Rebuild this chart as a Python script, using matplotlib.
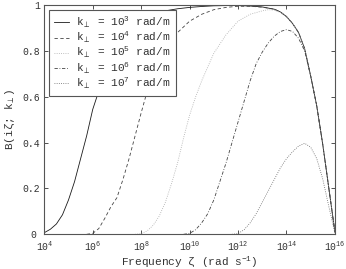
import numpy as np
import matplotlib
matplotlib.use("Agg")
import matplotlib.pyplot as plt
from matplotlib.transforms import ScaledTranslation

plt.rcParams['font.family'] = ['Liberation Mono', 'DejaVu Sans']
plt.rcParams['mathtext.fontset'] = 'custom'
plt.rcParams['mathtext.rm'] = 'Liberation Mono'
plt.rcParams['mathtext.it'] = 'Liberation Mono'
plt.rcParams['mathtext.fallback'] = 'cm'

# log10 of frequency (rad/s) and B values
dec_k3 = [4.0, 4.25, 4.5, 4.75, 5.0, 5.25, 5.5, 5.75, 6.0, 6.25, 6.5, 7.0, 7.5, 8.0,
          8.5, 9.0, 9.5, 10.0, 10.5, 11.0, 11.5, 12.0, 12.5, 13.0, 13.5, 13.75,
          14.0, 14.25, 14.5, 14.75, 15.0, 15.25, 15.5, 15.75, 16.0]
b_k3 = [0.007, 0.022, 0.045, 0.085, 0.15, 0.23, 0.33, 0.43, 0.545, 0.625, 0.70, 0.80,
        0.88, 0.93, 0.96, 0.975, 0.984, 0.99, 0.994, 0.997, 0.998, 0.998, 0.996,
        0.992, 0.982, 0.97, 0.95, 0.92, 0.88, 0.81, 0.69, 0.56, 0.39, 0.20, 0.01]

dec_k4 = [5.75, 6.0, 6.25, 6.5, 6.75, 7.0, 7.25, 7.5, 7.75, 8.0, 8.25, 8.5, 9.0, 9.5,
          10.0, 10.5, 11.0, 11.5, 12.0, 12.5, 13.0, 13.5, 13.75, 14.0, 14.25, 14.5,
          14.75, 15.0, 15.25, 15.5, 15.75, 16.0]
b_k4 = [0.0, 0.004, 0.025, 0.07, 0.12, 0.16, 0.24, 0.33, 0.43, 0.53, 0.625, 0.70,
        0.80, 0.88, 0.93, 0.96, 0.98, 0.99, 0.995, 0.995, 0.991, 0.982, 0.97, 0.95,
        0.92, 0.88, 0.81, 0.69, 0.56, 0.39, 0.20, 0.01]

dec_k5 = [7.75, 8.0, 8.25, 8.5, 8.75, 9.0, 9.25, 9.5, 9.75, 10.0, 10.25, 10.5, 11.0,
          11.5, 12.0, 12.5, 13.0, 13.25, 13.5, 13.75, 14.0, 14.25, 14.5, 14.75,
          15.0, 15.25, 15.5, 15.75, 16.0]
b_k5 = [0.0, 0.003, 0.015, 0.04, 0.08, 0.14, 0.22, 0.31, 0.42, 0.52, 0.60, 0.67,
        0.79, 0.87, 0.93, 0.96, 0.975, 0.98, 0.978, 0.968, 0.95, 0.92, 0.88, 0.81,
        0.69, 0.56, 0.39, 0.20, 0.01]

dec_k6 = [9.75, 10.0, 10.25, 10.5, 10.75, 11.0, 11.25, 11.5, 11.75, 12.0, 12.25,
          12.5, 12.75, 13.0, 13.25, 13.5, 13.75, 14.0, 14.25, 14.5, 14.75, 15.0,
          15.25, 15.5, 15.75, 16.0]
b_k6 = [0.0, 0.004, 0.02, 0.05, 0.09, 0.15, 0.23, 0.31, 0.40, 0.49, 0.58, 0.67,
        0.745, 0.795, 0.835, 0.865, 0.885, 0.893, 0.885, 0.855, 0.80, 0.69, 0.56,
        0.39, 0.20, 0.01]

dec_k7 = [11.75, 12.0, 12.25, 12.5, 12.75, 13.0, 13.25, 13.5, 13.75, 14.0, 14.25,
          14.5, 14.75, 15.0, 15.25, 15.5, 15.75, 16.0]
b_k7 = [0.0, 0.003, 0.02, 0.05, 0.09, 0.14, 0.19, 0.24, 0.29, 0.33, 0.36, 0.385,
        0.397, 0.38, 0.33, 0.24, 0.12, 0.005]

labels = [r'k$_\perp$ = 10$^3$ rad/m', r'k$_\perp$ = 10$^4$ rad/m',
          r'k$_\perp$ = 10$^5$ rad/m', r'k$_\perp$ = 10$^6$ rad/m',
          r'k$_\perp$ = 10$^7$ rad/m']

fig = plt.figure(figsize=(3.46, 2.69), dpi=100)
ax = fig.add_axes([0.128, 0.129, 0.84, 0.852])

lw = 0.6
ax.plot(10 ** np.array(dec_k3), b_k3, '-', color='#1a1a1a', lw=lw, label=labels[0])
ax.plot(10 ** np.array(dec_k4), b_k4, '--', color='#444444', lw=lw, dashes=(4, 3), label=labels[1])
ax.plot(10 ** np.array(dec_k5), b_k5, ':', color='#aaaaaa', lw=lw, label=labels[2])
ax.plot(10 ** np.array(dec_k6), b_k6, '-.', color='#444444', lw=lw, dashes=(4, 2, 1, 2), label=labels[3])
ax.plot(10 ** np.array(dec_k7), b_k7, ':', color='#666666', lw=lw, label=labels[4])

ax.set_xscale('log')
ax.set_xlim(1e4, 1e16)
ax.set_ylim(0, 1)
ax.set_xticks([1e4, 1e6, 1e8, 1e10, 1e12, 1e14, 1e16])
ax.xaxis.set_minor_locator(matplotlib.ticker.NullLocator())
ax.set_yticks([0, 0.2, 0.4, 0.6, 0.8, 1])
ax.set_yticklabels(['0', '0.2', '0.4', '0.6', '0.8', '1'])
ax.tick_params(direction='in', top=True, right=True, length=3, width=0.6,
               labelsize=7, colors='#333333', pad=3)
ax.tick_params(axis='x', pad=4)
for s in ax.spines.values():
    s.set_color('#555555')
    s.set_linewidth(0.8)

# the "0" label sits a little left of the others, clear of 10^4
zero_lbl = ax.get_yticklabels()[0]
zero_lbl.set_transform(zero_lbl.get_transform() + ScaledTranslation(-0.04, 0, fig.dpi_scale_trans))

ax.set_xlabel(r'Frequency $\zeta$ (rad s$^{-1}$)', fontsize=8, color='#333333', labelpad=1)
ax.set_ylabel(r'B(i$\zeta$; k$_\perp$)', fontsize=8, color='#333333', labelpad=4)

leg = ax.legend(loc='upper left', bbox_to_anchor=(0.016, 0.978), borderaxespad=0,
                fontsize=8, handlelength=1.4, handletextpad=0.6, labelspacing=0.0,
                borderpad=0.45, fancybox=False, framealpha=1, edgecolor='#555555')
leg.get_frame().set_linewidth(0.8)
for t in leg.get_texts():
    t.set_color('#333333')

fig.savefig('out.png', dpi=100)
